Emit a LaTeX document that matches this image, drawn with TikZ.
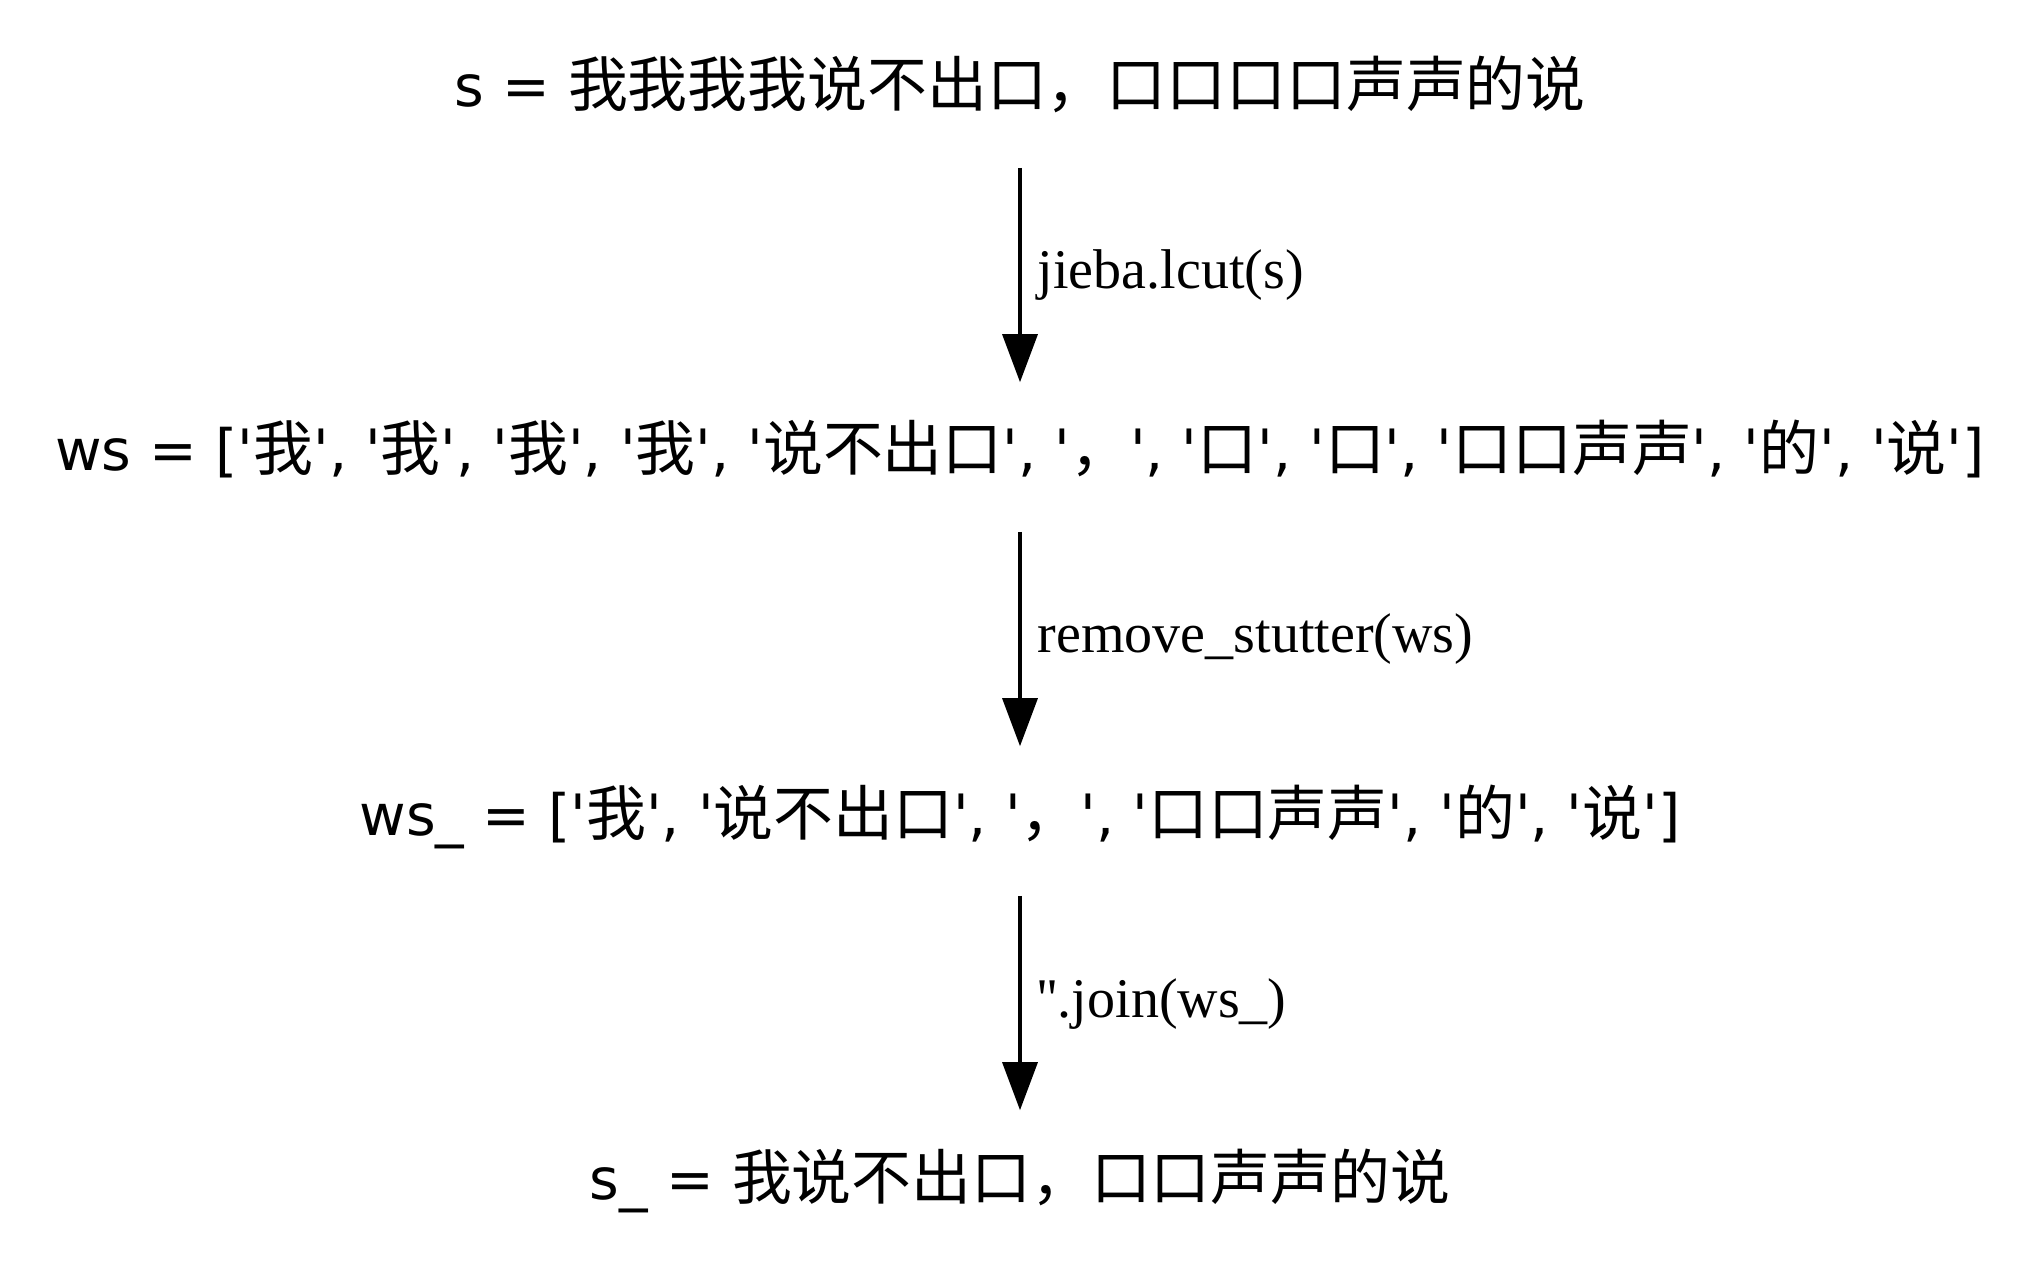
\documentclass[tikz,border=0pt]{standalone}
\usepackage{fontspec}
\setmainfont{DejaVu Sans}
\newfontfamily\zhfont{Noto Sans CJK SC}[Scale=1.05]
\newfontfamily\labelfont{Liberation Serif}
\usetikzlibrary{arrows.meta}

\newcommand*{\zh}[1]{{\zhfont#1}}%
\newcommand*{\zq}[1]{\textquotesingle\zh{#1}\textquotesingle}%

\begin{document}
\begin{tikzpicture}[x=0.25pt,y=-0.25pt,
    textnode/.style={inner sep=0,minimum height=37pt,text height=9.5pt,text depth=2.5pt,
      font=\fontsize{14.25pt}{17pt}\selectfont},
    steplabel/.style={anchor=west,inner sep=0,xshift=4pt,text height=10pt,text depth=3pt,
      font=\labelfont\fontsize{14pt}{17pt}\selectfont},
    flow/.style={-{Triangle[length=12pt,width=8.75pt]},line width=0.85pt}]

    \useasboundingbox (0,0) rectangle (2042,1271);

    \node [textnode] (s)   at (1020,93)   {s = \zh{我我我我说不出口，口口口口声声的说}};
    \node [textnode] (ws)  at (1020,457)  {ws = [\zq{我}, \zq{我}, \zq{我}, \zq{我}, \zq{说不出口}, \zq{，}, \zq{口}, \zq{口}, \zq{口口声声}, \zq{的}, \zq{说}]};
    \node [textnode] (wsu) at (1020,821)  {ws\_ = [\zq{我}, \zq{说不出口}, \zq{，}, \zq{口口声声}, \zq{的}, \zq{说}]};
    \node [textnode] (su)  at (1020,1185) {s\_ = \zh{我说不出口，口口声声的说}};

    \foreach \a/\b/\t in {s/ws/{jieba.lcut(s)},
                          ws/wsu/{remove\_stutter(ws)},
                          wsu/su/{\textquotesingle\textquotesingle.join(ws\_)}}
       \draw [flow] (\a) -- (\b) node [steplabel,midway] {\t};

\end{tikzpicture}
\end{document}
